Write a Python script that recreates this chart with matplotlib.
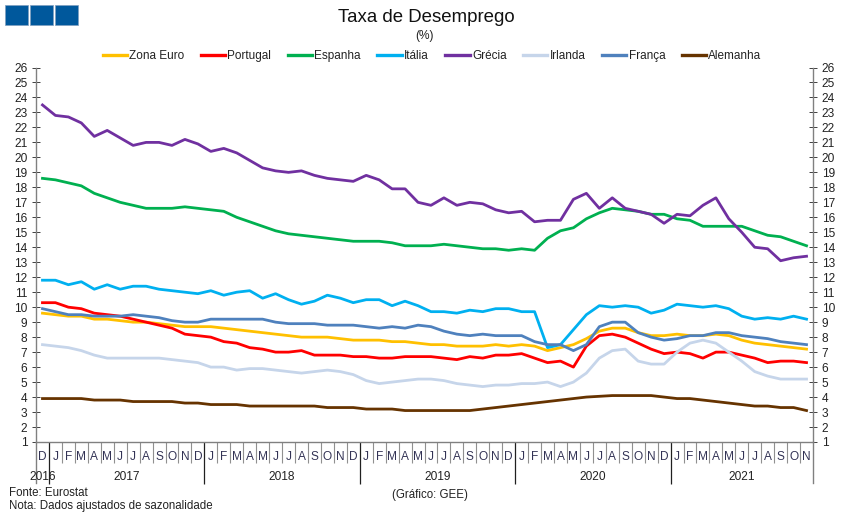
from matplotlib import pyplot as plt
from matplotlib.patches import Rectangle
from matplotlib.ticker import FixedLocator
import matplotlib

matplotlib.rc("font", family="Liberation Sans", size=8.3)

months = ["D"] + list("JFMAMJJASOND") * 4 + list("JFMAMJJASON")
years = ["2016", "2017", "2018", "2019", "2020", "2021"]
year_centers = [0.0, 6.5, 18.5, 30.5, 42.5, 54.0]
year_edges = [0.5, 12.5, 24.5, 36.5, 48.5]
y_ticks = list(range(1, 27))

zona_euro = [9.6, 9.5, 9.4, 9.4, 9.2, 9.2, 9.1, 9.0, 9.0, 8.9, 8.8, 8.7, 8.7,
             8.7, 8.6, 8.5, 8.4, 8.3, 8.2, 8.1, 8.0, 8.0, 8.0, 7.9, 7.8,
             7.8, 7.8, 7.7, 7.7, 7.6, 7.5, 7.5, 7.4, 7.4, 7.4, 7.5, 7.4,
             7.5, 7.4, 7.1, 7.3, 7.5, 7.9, 8.4, 8.6, 8.6, 8.3, 8.1, 8.1,
             8.2, 8.1, 8.1, 8.2, 8.1, 7.8, 7.6, 7.5, 7.4, 7.3, 7.2]
portugal = [10.3, 10.3, 10.0, 9.9, 9.6, 9.5, 9.4, 9.2, 9.0, 8.8, 8.6, 8.2, 8.1,
            8.0, 7.7, 7.6, 7.3, 7.2, 7.0, 7.0, 7.1, 6.8, 6.8, 6.8, 6.7,
            6.7, 6.6, 6.6, 6.7, 6.7, 6.7, 6.6, 6.5, 6.7, 6.6, 6.8, 6.8,
            6.9, 6.6, 6.3, 6.4, 6.0, 7.4, 8.1, 8.2, 8.0, 7.6, 7.2, 6.9,
            7.0, 6.9, 6.6, 7.0, 7.0, 6.8, 6.6, 6.3, 6.4, 6.4, 6.3]
espanha = [18.6, 18.5, 18.3, 18.1, 17.6, 17.3, 17.0, 16.8, 16.6, 16.6, 16.6, 16.7, 16.6,
           16.5, 16.4, 16.0, 15.7, 15.4, 15.1, 14.9, 14.8, 14.7, 14.6, 14.5, 14.4,
           14.4, 14.4, 14.3, 14.1, 14.1, 14.1, 14.2, 14.1, 14.0, 13.9, 13.9, 13.8,
           13.9, 13.8, 14.6, 15.1, 15.3, 15.9, 16.3, 16.6, 16.5, 16.4, 16.2, 16.2,
           15.9, 15.8, 15.4, 15.4, 15.4, 15.4, 15.1, 14.8, 14.7, 14.4, 14.1]
italia = [11.8, 11.8, 11.5, 11.7, 11.2, 11.5, 11.2, 11.4, 11.4, 11.2, 11.1, 11.0, 10.9,
          11.1, 10.8, 11.0, 11.1, 10.6, 10.9, 10.5, 10.2, 10.4, 10.8, 10.6, 10.3,
          10.5, 10.5, 10.1, 10.4, 10.1, 9.7, 9.7, 9.6, 9.8, 9.7, 9.9, 9.9,
          9.7, 9.7, 7.3, 7.5, 8.5, 9.5, 10.1, 10.0, 10.1, 10.0, 9.6, 9.8,
          10.2, 10.1, 10.0, 10.1, 9.9, 9.4, 9.2, 9.3, 9.2, 9.4, 9.2]
grecia = [23.5, 22.8, 22.7, 22.3, 21.4, 21.8, 21.3, 20.8, 21.0, 21.0, 20.8, 21.2, 20.9,
          20.4, 20.6, 20.3, 19.8, 19.3, 19.1, 19.0, 19.1, 18.8, 18.6, 18.5, 18.4,
          18.8, 18.5, 17.9, 17.9, 17.0, 16.8, 17.3, 16.8, 17.0, 16.9, 16.5, 16.3,
          16.4, 15.7, 15.8, 15.8, 17.2, 17.6, 16.6, 17.3, 16.6, 16.4, 16.2, 15.6,
          16.2, 16.1, 16.8, 17.3, 15.9, 15.0, 14.0, 13.9, 13.1, 13.3, 13.4]
irlanda = [7.5, 7.4, 7.3, 7.1, 6.8, 6.6, 6.6, 6.6, 6.6, 6.6, 6.5, 6.4, 6.3,
           6.0, 6.0, 5.8, 5.9, 5.9, 5.8, 5.7, 5.6, 5.7, 5.8, 5.7, 5.5,
           5.1, 4.9, 5.0, 5.1, 5.2, 5.2, 5.1, 4.9, 4.8, 4.7, 4.8, 4.8,
           4.9, 4.9, 5.0, 4.7, 5.0, 5.6, 6.6, 7.1, 7.2, 6.4, 6.2, 6.2,
           7.0, 7.6, 7.8, 7.6, 7.0, 6.4, 5.7, 5.4, 5.2, 5.2, 5.2]
franca = [9.9, 9.7, 9.5, 9.5, 9.4, 9.4, 9.4, 9.5, 9.4, 9.3, 9.1, 9.0, 9.0,
          9.2, 9.2, 9.2, 9.2, 9.2, 9.0, 8.9, 8.9, 8.9, 8.8, 8.8, 8.8,
          8.7, 8.6, 8.7, 8.6, 8.8, 8.7, 8.4, 8.2, 8.1, 8.2, 8.1, 8.1,
          8.1, 7.7, 7.5, 7.5, 7.1, 7.5, 8.7, 9.0, 9.0, 8.3, 8.0, 7.8,
          7.9, 8.1, 8.1, 8.3, 8.3, 8.1, 8.0, 7.9, 7.7, 7.6, 7.5]
alemanha = [3.9, 3.9, 3.9, 3.9, 3.8, 3.8, 3.8, 3.7, 3.7, 3.7, 3.7, 3.6, 3.6,
            3.5, 3.5, 3.5, 3.4, 3.4, 3.4, 3.4, 3.4, 3.4, 3.3, 3.3, 3.3,
            3.2, 3.2, 3.2, 3.1, 3.1, 3.1, 3.1, 3.1, 3.1, 3.2, 3.3, 3.4,
            3.5, 3.6, 3.7, 3.8, 3.9, 4.0, 4.05, 4.1, 4.1, 4.1, 4.1, 4.0,
            3.9, 3.9, 3.8, 3.7, 3.6, 3.5, 3.4, 3.4, 3.3, 3.3, 3.1]

series = [("Zona Euro", zona_euro, "#FFC000"),
          ("Portugal", portugal, "#FF0000"),
          ("Espanha", espanha, "#00B050"),
          ("Itália", italia, "#00B0F0"),
          ("Grécia", grecia, "#7030A0"),
          ("Irlanda", irlanda, "#C6D5EA"),
          ("França", franca, "#4F81BD"),
          ("Alemanha", alemanha, "#663300")]

W, H = 851, 519
fig = plt.figure(figsize=(W / 100, H / 100), dpi=100)
ax = fig.add_axes([36 / W, 1 - 442 / H, 777 / W, 374.5 / H])

x = list(range(len(months)))
for name, values, color in series:
    ax.plot(x, values, color=color, lw=2.0, label=name, solid_joinstyle="round", clip_on=False)

ax.set_xlim(-0.5, 59.5)
ax.set_ylim(1, 26)
ax.spines["top"].set_visible(False)
for s in ["left", "right", "bottom"]:
    ax.spines[s].set_color("#808080")
    ax.spines[s].set_linewidth(1.0)

ax.set_yticks(y_ticks)
ax.tick_params(axis="y", which="major", left=True, right=True, labelleft=True, labelright=True,
               direction="inout", length=5.5, width=0.7, color="#404040", pad=3.5,
               labelsize=8.6, labelcolor="#222222")

# separadores dos meses e dos anos
ax.xaxis.set_major_locator(FixedLocator(year_edges))
ax.xaxis.set_minor_locator(FixedLocator([i - 0.5 for i in range(1, 60)]))
ax.tick_params(axis="x", which="major", length=30, width=0.9, color="#202020", labelbottom=False)
ax.tick_params(axis="x", which="minor", length=15, width=0.8, color="#909090")

# limites laterais do eixo das categorias
trans = ax.get_xaxis_transform()
for edge in [-0.5, 59.5]:
    ax.plot([edge, edge], [0, -41 / 374.5], transform=trans, color="#808080", lw=1.0, clip_on=False)

for i, m in enumerate(months):
    ax.text(i, -15 / 374.5, m, transform=trans, ha="center", va="center", fontsize=8.6, color="#333355")
for c, y in zip(year_centers, years):
    ax.text(c, -35 / 374.5, y, transform=trans, ha="center", va="center", fontsize=8.6, color="#222222")

leg = ax.legend(loc="center", bbox_to_anchor=(432 / W, 1 - 56 / H), bbox_transform=fig.transFigure,
                ncol=8, frameon=False, fontsize=8.5, handlelength=2.05, handletextpad=0.2,
                columnspacing=1.4, borderpad=0, labelcolor="#222222")
for line in leg.get_lines():
    line.set_linewidth(2.4)

for left in [5, 30, 55]:
    fig.patches.append(Rectangle((left / W, 1 - 25 / H), 23 / W, 20 / H, transform=fig.transFigure,
                                 facecolor="#00589C", edgecolor="#7F9FBF", lw=0.5))

fig.text(426 / W, 1 - 18 / H, "Taxa de Desemprego", ha="center", va="center", fontsize=13.4, color="#111111")
fig.text(425 / W, 1 - 36 / H, "(%)", ha="center", va="center", fontsize=8.6, color="#222222")
fig.text(9 / W, 1 - 493 / H, "Fonte: Eurostat", ha="left", va="center", fontsize=8.3, color="#222222")
fig.text(9 / W, 1 - 505.5 / H, "Nota: Dados ajustados de sazonalidade", ha="left", va="center", fontsize=8.3, color="#222222")
fig.text(430 / W, 1 - 495 / H, "(Gráfico: GEE)", ha="center", va="center", fontsize=8.3, color="#222222")

fig.savefig("out.png", dpi=100)
